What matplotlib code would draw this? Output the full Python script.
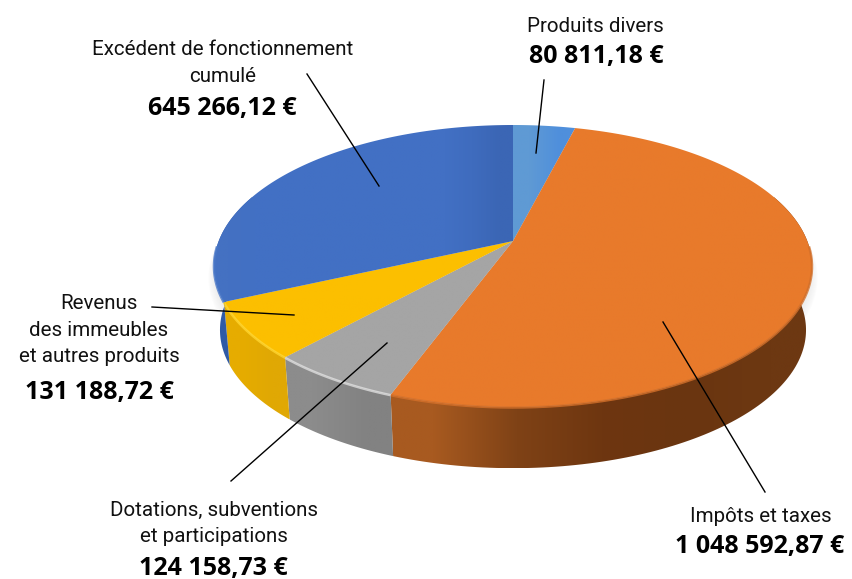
#!/usr/bin/env python3
"""Camembert 3D : recettes de fonctionnement."""

import numpy as np
import matplotlib
matplotlib.use('Agg')
import matplotlib.pyplot as plt
from matplotlib.colors import to_rgb
from matplotlib.patches import Polygon

# =============================================================================
# Data
# =============================================================================

names = [
    'Produits divers',
    'Impôts et taxes',
    'Dotations, subventions\net participations',
    'Revenus\ndes immeubles\net autres produits',
    'Excédent de fonctionnement\ncumulé',
]
values = [80811.18, 1048592.87, 124158.73, 131188.72, 645266.12]
amounts = ['80 811,18 €', '1 048 592,87 €', '124 158,73 €', '131 188,72 €', '645 266,12 €']

# =============================================================================
# Style and layout (pixels of the 853x579 picture)
# =============================================================================

# colour stops run left to right across each slice
top_colors = [['#5f9ad4', '#4f8fdc'], ['#e87a2b', '#e87a2b'], ['#a5a5a5', '#a5a5a5'],
              ['#fcbf00', '#fcbf00'],
              ['#4471c2', '#4270c4', '#4270c4', '#4270c4', '#4270c4', '#4270c4', '#4270c4',
               '#4270c4', '#4270c4', '#3f6cbe', '#3b66b5']]
wall_colors = [['#3c6ab8', '#3c6ab8'],
               ['#a85a20', '#7f4216', '#6e3610', '#6a3510', '#6d3812'],
               ['#8c8c8c', '#828282'], ['#e6ac00', '#e0a804'], ['#2f5aa6', '#3762ad']]
rim_colors = ['#5b97d6', '#d4702a', '#dedede', '#ffd52e', '#4a78c8']

CX, CY, A, B, TILT = 513.0, 266.0, 299.0, 141.0, 0.177
DEPTH, SCALE = 64.0, 0.98

plt.rcParams['font.family'] = ['Roboto', 'DejaVu Sans']
NAME_SIZE = 14.8
AMOUNT_SIZE = 18

label_pos = [(595, 26), (761, 516), (214, 523), (99, 330), (223, 63)]
amount_pos = [(596, 57), (760, 547), (213, 568), (99, 393), (222, 109)]
leaders = [[(544, 80), (536, 153)], [(765, 492), (663, 322)], [(231, 481), (387, 343)],
           [(152, 307), (294, 315)], [(307, 74), (379, 186)]]


def project(theta, scale=1.0, shift=0.0):
    """Angle (radians, clockwise from the top) to picture pixels, with perspective."""
    u, v = np.sin(theta), np.cos(theta)
    d = 1 + TILT * v
    vp = (v + TILT) / d
    up = u * np.sqrt(1 - TILT**2) / d
    return CX + scale * A * up, CY + shift - scale * B * vp


def fill_gradient(ax, pts, stops, zorder):
    """Fill a polygon with a left-to-right gradient, clipped to its outline."""
    patch = Polygon(pts, closed=True, fc='none', ec='none', zorder=zorder)
    ax.add_patch(patch)
    rgb = np.array([to_rgb(c) for c in stops])
    img = rgb[np.newaxis, :, :]
    im = ax.imshow(img, extent=(pts[:, 0].min(), pts[:, 0].max(), pts[:, 1].max(), pts[:, 1].min()),
                   aspect='auto', interpolation='bilinear', zorder=zorder)
    im.set_clip_path(patch)


fig = plt.figure(figsize=(8.53, 5.79), dpi=100)
ax = fig.add_axes([0, 0, 1, 1])

edges = 2 * np.pi * np.concatenate([[0], np.cumsum(values)]) / np.sum(values)

# soft shadow under the pie
ring = np.linspace(0, 2 * np.pi, 240)
for k in range(14):
    x, y = project(ring, SCALE + 0.003 * k, 4 + k * 0.6)
    ax.add_patch(Polygon(np.column_stack([x, y]), closed=True, fc='#505050', ec='none',
                         alpha=0.012, zorder=1))

# walls on the front side only
front_lo, front_hi = np.radians(70), np.radians(290)
for i in range(len(values)):
    lo, hi = max(edges[i], front_lo), min(edges[i + 1], front_hi)
    if hi <= lo:
        continue
    th = np.linspace(lo, hi, 120)
    x0, y0 = project(th)
    x1, y1 = project(th, SCALE, DEPTH)
    pts = np.column_stack([np.r_[x0, x1[::-1]], np.r_[y0, y1[::-1]]])
    fill_gradient(ax, pts, wall_colors[i], 2 + i * 0.01)

# top faces
apex_x, apex_y = CX, CY - B * TILT
for i in range(len(values)):
    x, y = project(np.linspace(edges[i], edges[i + 1], 200))
    pts = np.column_stack([np.r_[apex_x, x], np.r_[apex_y, y]])
    fill_gradient(ax, pts, top_colors[i], 3 + i * 0.01)

# light bevel along the front rim
for i in range(1, len(values)):
    lo, hi = max(edges[i], np.radians(92)), min(edges[i + 1], np.radians(268))
    if hi <= lo:
        continue
    x, y = project(np.linspace(lo, hi, 60))
    ax.plot(x, y + 0.5, color=rim_colors[i], lw=1.8, alpha=0.8, zorder=4, solid_capstyle='butt')

# labels and leader lines
for i in range(len(values)):
    ax.text(*label_pos[i], names[i], ha='center', va='center', fontsize=NAME_SIZE,
            linespacing=1.47, color='#111111', zorder=6)
    ax.text(*amount_pos[i], amounts[i], ha='center', va='center', fontsize=AMOUNT_SIZE,
            fontweight='bold', family=['Open Sans', 'DejaVu Sans'], color='black', zorder=6)
    (xa, ya), (xb, yb) = leaders[i]
    ax.plot([xa, xb], [ya, yb], color='black', lw=1.0, zorder=5)

ax.set_xlim(0, 853)
ax.set_ylim(579, 0)
ax.axis('off')

fig.savefig('out.png', dpi=100)
